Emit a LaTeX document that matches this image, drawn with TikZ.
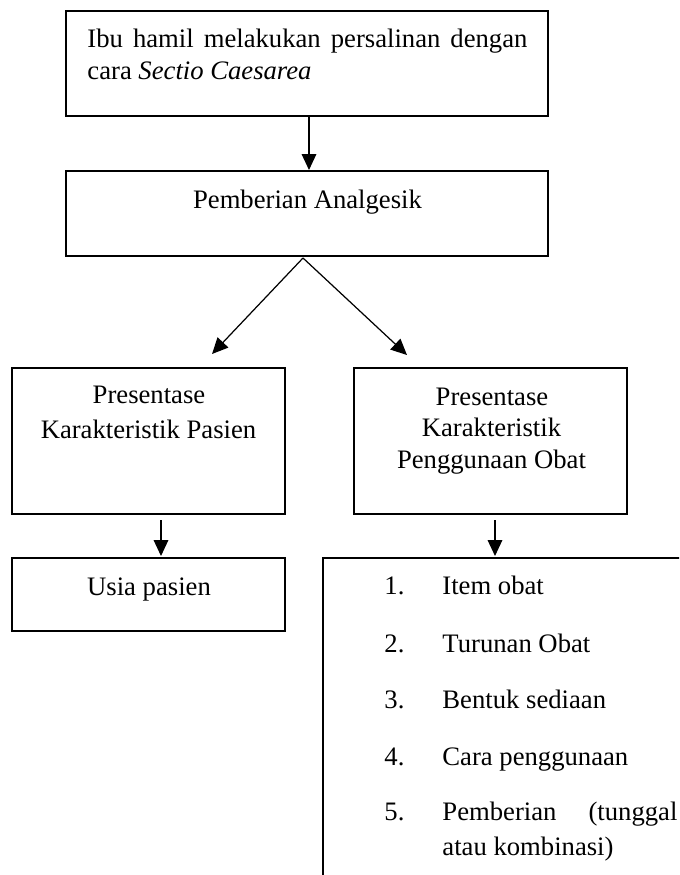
\documentclass[tikz,border=0pt]{standalone}
\usepackage{fontspec}
\setmainfont{Liberation Serif}
\usetikzlibrary{arrows.meta,calc}
\begin{document}
\begin{tikzpicture}[x=0.45pt,y=-0.45pt,
  box/.style={draw,line width=0.75pt,rectangle,inner sep=0pt,outer sep=0pt},
  arr/.style={-{Triangle[length=7.2pt,width=6.6pt]},line width=0.55pt},
  txt/.style={inner sep=0pt,anchor=base,font=\fontsize{12pt}{14pt}\selectfont},
  ltxt/.style={txt,anchor=base west}]
\useasboundingbox (0,0) rectangle (679,875);
\clip (0,0) rectangle (679,875);
% boxes
\node[box,minimum width=216.9pt,minimum height=47.25pt] (b1) at (307,63.5) {};
\node[box,minimum width=216.9pt,minimum height=38.25pt] (b2) at (307,213.5) {};
\node[box,minimum width=122.85pt,minimum height=65.7pt] (b3) at (148.5,441) {};
\node[box,minimum width=122.85pt,minimum height=65.7pt] (b4) at (490.5,441) {};
\node[box,minimum width=122.85pt,minimum height=32.85pt] (b5) at (148.5,594.5) {};
\node[box,minimum width=178.65pt,minimum height=162.9pt] (b6) at (521.5,739) {};
% texts
\node[ltxt] (t1a) at (87,47) {\makebox[198pt][s]{Ibu hamil melakukan persalinan dengan}};
\node[ltxt] (t1b) at (87,79) {cara \textit{Sectio Caesarea}};
\node[txt] (t2) at (307.5,208) {Pemberian Analgesik};
\node[txt] (t3a) at (149,403) {Presentase};
\node[txt] (t3b) at (148.5,438) {Karakteristik Pasien};
\node[txt] (t4a) at (492,405) {Presentase};
\node[txt] (t4b) at (491.5,436.5) {Karakteristik};
\node[txt] (t4c) at (491.5,468) {Penggunaan Obat};
\node[txt] (t5) at (149,595) {Usia pasien};
\node[ltxt] (n1) at (384,594) {1.};
\node[ltxt] (n2) at (384,652) {2.};
\node[ltxt] (n3) at (384,708) {3.};
\node[ltxt] (n4) at (384,765) {4.};
\node[ltxt] (n5) at (384,820) {5.};
\node[ltxt] (i1) at (442,594) {Item obat};
\node[ltxt] (i2) at (442,652) {Turunan Obat};
\node[ltxt] (i3) at (442,708) {Bentuk sediaan};
\node[ltxt] (i4) at (442,765) {Cara penggunaan};
\node[ltxt] (i5) at (442,820) {\makebox[105.75pt][s]{Pemberian (tunggal}};
\node[ltxt] (i6) at (442,855) {atau kombinasi)};
% connectors
\draw[arr] ($(b1.south)+(2,1)$) -- ($(b2.north)+(2,-1)$);
\draw[arr] ($(b2.south)+(-4,2)$) -- ($(b3.north)+(63.5,-14)$);
\draw[arr] ($(b2.south)+(-4,2)$) -- ($(b4.north)+(-83.5,-13)$);
\draw[arr] ($(b3.south)+(12.5,6)$) -- ($(b5.north)+(12.5,-2)$);
\draw[arr] ($(b4.south)+(4.5,6)$) -- ($(b6.north -| b4.south)+(4.5,-2)$);
\end{tikzpicture}
\end{document}
